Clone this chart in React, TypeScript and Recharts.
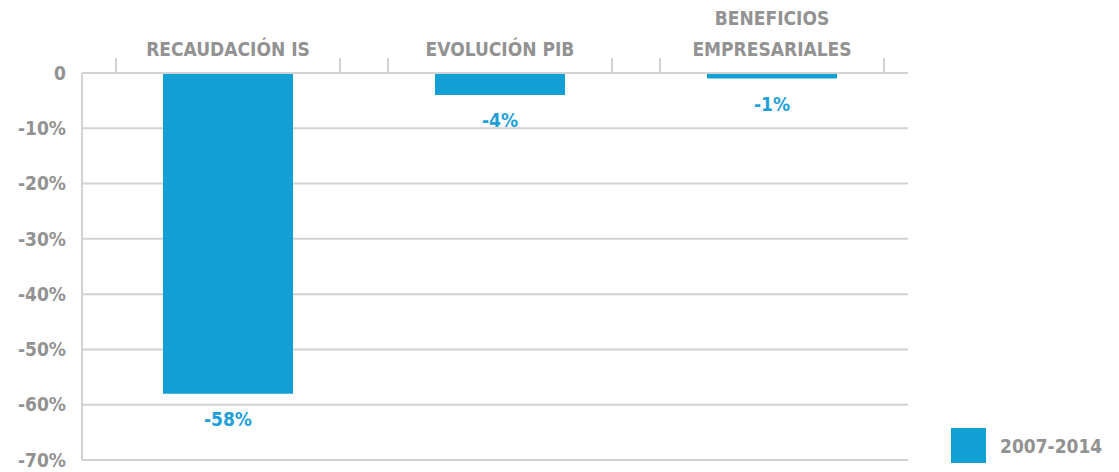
import { BarChart, Bar, XAxis, YAxis, CartesianGrid, LabelList } from "recharts";

const categories = [["RECAUDACIÓN IS"], ["EVOLUCIÓN PIB"], ["BENEFICIOS", "EMPRESARIALES"]];
const values = [-58, -4, -1];
const yTicks = [0, -10, -20, -30, -40, -50, -60, -70];
const seriesName = "2007-2014";

const BLUE = "#129fd4";
const GREY_TEXT = "#929292";
const GREY_LINE = "#d2d2d2";
const FONT = "'DejaVu Sans Condensed', 'Liberation Sans Narrow', sans-serif";

const data = categories.map((lines, i) => ({ name: lines.join(" "), lines, value: values[i] }));

function TopTick({ x, y, index }: any) {
  const lines = categories[index] || [];
  const half = 112;
  return (
    <g>
      <line x1={x - half} x2={x - half} y1={y - 15} y2={y} stroke={GREY_LINE} strokeWidth={2} />
      <line x1={x + half} x2={x + half} y1={y - 15} y2={y} stroke={GREY_LINE} strokeWidth={2} />
      {lines.map((t: string, i: number) => (
        <text
          key={i}
          x={x}
          y={y - 17 - (lines.length - 1 - i) * 31}
          textAnchor="middle"
          fill={GREY_TEXT}
          fontFamily={FONT}
          fontWeight={700}
          fontSize={19}
        >
          {t}
        </text>
      ))}
    </g>
  );
}

function ValueLabel({ x, y, width, height, value }: any) {
  const bottom = Math.max(y, y + height);
  return (
    <text
      x={x + width / 2}
      y={bottom + 32}
      textAnchor="middle"
      fill="#1e9fd8"
      fontFamily={FONT}
      fontWeight={700}
      fontSize={19}
    >
      {`${value}%`}
    </text>
  );
}

export default function App() {
  return (
    <div style={{ position: "absolute", left: 0, top: 0, width: 1119, height: 472, background: "#fff" }}>
      <BarChart width={1119} height={472} data={data} margin={{ top: 0, right: 211, bottom: 12, left: 0 }} barSize={130}>
        <CartesianGrid vertical={false} stroke={GREY_LINE} strokeWidth={2} />
        <XAxis
          dataKey="name"
          orientation="top"
          height={73}
          axisLine={{ stroke: GREY_LINE, strokeWidth: 2 }}
          tickLine={false}
          tickSize={0}
          tickMargin={0}
          padding={{ left: 10, right: 0 }}
          tick={<TopTick />}
          interval={0}
        />
        <YAxis
          width={82}
          domain={[-70, 0]}
          ticks={yTicks}
          interval={0}
          axisLine={{ stroke: GREY_LINE, strokeWidth: 2 }}
          tickLine={false}
          tickSize={0}
          tickMargin={16}
          tickFormatter={(v: number) => (v === 0 ? "0" : `${v}%`)}
          tick={{ fill: GREY_TEXT, fontFamily: FONT, fontWeight: 700, fontSize: 19 }}
        />
        <Bar dataKey="value" name={seriesName} fill={BLUE} isAnimationActive={false}>
          <LabelList dataKey="value" content={<ValueLabel />} />
        </Bar>
      </BarChart>
      <div
        style={{
          position: "absolute", left: 951, top: 428, display: "flex", alignItems: "center",
          fontFamily: FONT, fontWeight: 700, fontSize: 19, color: GREY_TEXT,
        }}
      >
        <div style={{ width: 35, height: 35, background: BLUE, marginRight: 14 }} />
        <span>{seriesName}</span>
      </div>
    </div>
  );
}
